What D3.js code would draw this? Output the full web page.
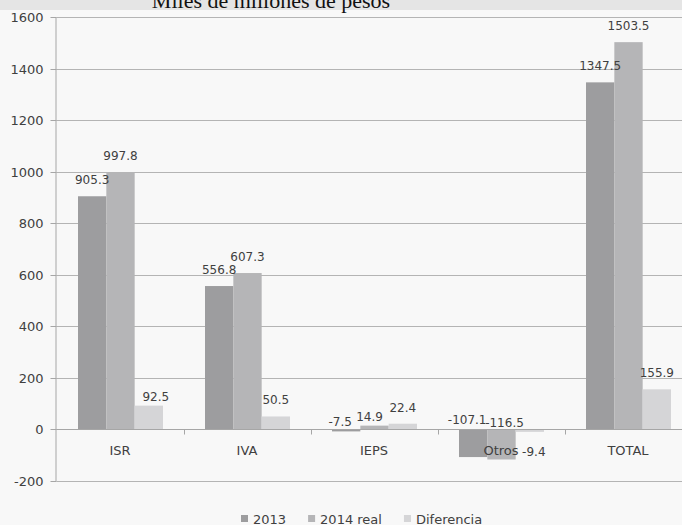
<!DOCTYPE html>
<html>
<head>
<meta charset="utf-8">
<script src="https://cdn.jsdelivr.net/npm/d3@7/dist/d3.min.js"></script>
<style>
  html, body { margin: 0; padding: 0; background: #f8f8f8; }
  svg { display: block; }
</style>
</head>
<body>
<svg id="chart" width="682" height="525"></svg>
<script>
// Revenue by tax, 2013 vs 2014 (billions of pesos)
const categories = ["ISR", "IVA", "IEPS", "Otros", "TOTAL"];
const seriesNames = ["2013", "2014 real", "Diferencia"];
const values2013 = [905.3, 556.8, -7.5, -107.1, 1347.5];
const values2014 = [997.8, 607.3, 14.9, -116.5, 1503.5];
const valuesDiff = [92.5, 50.5, 22.4, -9.4, 155.9];
const yTickValues = [-200, 0, 200, 400, 600, 800, 1000, 1200, 1400, 1600];
const titleText = "Miles de millones de pesos";

const seriesValues = [values2013, values2014, valuesDiff];
const colors = ["#9d9d9f", "#b5b5b7", "#d5d5d7"];

// hand-placed label tweaks where labels would collide
const labelNudge = {
  "ISR|Diferencia": [7, 7],
  "IEPS|2013": [-6, 9],
  "IEPS|2014 real": [-5, 7],
  "Otros|2013": [-6, 7],
  "Otros|2014 real": [3, 10],
  "Otros|Diferencia": [4, 0]
};

const W = 682, H = 525;
const plotLeft = 56.5, bandW = 127;
const svg = d3.select("#chart");
const font = "'DejaVu Sans', Verdana, sans-serif";
const textColor = "#404040";

// title strip
svg.append("rect").attr("x", 0).attr("y", 0).attr("width", W).attr("height", 10).attr("fill", "#e5e5e5");
svg.append("text").attr("x", 271).attr("y", 8).attr("text-anchor", "middle")
  .attr("font-family", "'Liberation Serif', 'Times New Roman', serif")
  .attr("font-size", 22).attr("fill", "#111").text(titleText);

const x0 = d3.scaleBand().domain(categories)
  .range([plotLeft, plotLeft + bandW * categories.length]).paddingInner(0).paddingOuter(0);
const x1 = d3.scaleBand().domain(seriesNames).range([21.5, 106.5]).padding(0);
const y = d3.scaleLinear().domain([-200, 1600]).range([481, 17.3]);

// horizontal gridlines
svg.append("g").selectAll("line").data(yTickValues).join("line")
  .attr("x1", plotLeft).attr("x2", W)
  .attr("y1", d => Math.round(y(d)) + 0.5).attr("y2", d => Math.round(y(d)) + 0.5)
  .attr("stroke", "#b4b4b4").attr("stroke-width", 1);

// y axis
const yAxis = d3.axisLeft(y).tickValues(yTickValues).tickSize(6).tickPadding(7)
  .tickFormat(d => String(d));
const gy = svg.append("g").attr("transform", `translate(${plotLeft},0)`).call(yAxis);
gy.select(".domain").attr("stroke", "#a6a6a6").attr("d", `M-0.5,${y(1600)}V${y(-200)}`);
gy.selectAll(".tick line").attr("stroke", "#a6a6a6");
gy.selectAll(".tick").attr("transform", d => `translate(0,${Math.round(y(d)) + 0.5})`);
gy.selectAll(".tick text").attr("font-family", font).attr("font-size", 13).attr("fill", textColor);

// bars
const rows = categories.map((c, i) => ({ cat: c, vals: seriesNames.map((s, j) => ({ cat: c, s, v: seriesValues[j][i], j })) }));
const groups = svg.append("g").selectAll("g").data(rows).join("g")
  .attr("transform", d => `translate(${x0(d.cat)},0)`);
groups.selectAll("rect").data(d => d.vals).join("rect")
  .attr("x", d => x1(d.s)).attr("width", x1.bandwidth())
  .attr("y", d => y(Math.max(0, d.v))).attr("height", d => Math.abs(y(d.v) - y(0)))
  .attr("fill", d => colors[d.j]);

// category axis at zero
const zeroY = Math.round(y(0)) + 0.5;
svg.append("line").attr("x1", plotLeft).attr("x2", W).attr("y1", zeroY).attr("y2", zeroY)
  .attr("stroke", "#a6a6a6");
svg.append("g").selectAll("line").data(categories.slice(1)).join("line")
  .attr("x1", d => Math.round(x0(d)) + 0.5).attr("x2", d => Math.round(x0(d)) + 0.5)
  .attr("y1", zeroY).attr("y2", zeroY + 5).attr("stroke", "#a6a6a6");
svg.append("g").selectAll("text").data(categories).join("text")
  .attr("x", d => x0(d) + bandW / 2).attr("y", y(0) + 26)
  .attr("text-anchor", "middle").attr("font-family", font).attr("font-size", 13)
  .attr("fill", textColor).text(d => d);

// value labels
groups.selectAll("text").data(d => d.vals).join("text")
  .attr("x", d => x1(d.s) + x1.bandwidth() / 2 + (labelNudge[d.cat + "|" + d.s] || [0, 0])[0])
  .attr("y", d => {
    const n = (labelNudge[d.cat + "|" + d.s] || [0, 0])[1];
    if (d.v < 0 && d.s === "Diferencia") return y(d.v) + 24;
    return y(Math.max(0, d.v)) - 12 + n;
  })
  .attr("text-anchor", "middle").attr("font-family", font).attr("font-size", 12)
  .attr("fill", textColor).text(d => d.v.toFixed(1));

// legend
const legend = svg.append("g").attr("transform", "translate(241,519)");
let lx = 0;
seriesNames.forEach((s, i) => {
  legend.append("rect").attr("x", lx).attr("y", -4).attr("width", 7).attr("height", 7).attr("fill", colors[i]);
  const t = legend.append("text").attr("x", lx + 12).attr("y", 4.5)
    .attr("font-family", font).attr("font-size", 13).attr("fill", textColor).text(s);
  lx += 12 + t.node().getComputedTextLength() + 22;
});
</script>
</body>
</html>
